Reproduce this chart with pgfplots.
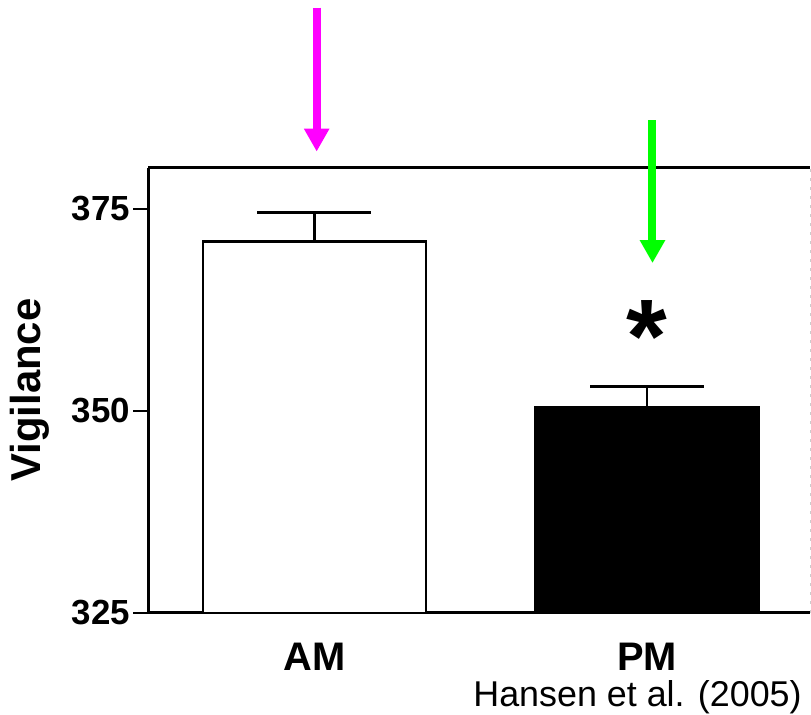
\documentclass[border=0pt]{standalone}
\usepackage{fontspec}
\setmainfont{Liberation Sans}
\usepackage{pgfplots}
\pgfplotsset{compat=1.18}
\usetikzlibrary{arrows.meta}
\definecolor{mag}{RGB}{255,0,255}
\definecolor{grn}{RGB}{0,255,0}
\begin{document}
\begin{tikzpicture}[x=1bp,y=1bp]
\useasboundingbox (0,0) rectangle (811,715);
\begin{axis}[
  at={(148bp,102bp)}, anchor=south west,
  scale only axis, width=662bp, height=445bp,
  xmin=-0.5, xmax=1.49, ymin=325, ymax=380.07,
  axis lines=left, axis line style={-, line width=3bp, black},
  ytick={325,350,375}, xtick={0,1}, xticklabels={AM,PM},
  tick align=outside, major tick length=15bp,
  x tick style={draw=none},
  y tick style={line width=2.5bp, black},
  /pgf/number format/assume math mode=true,
  yticklabel style={font=\fontsize{35}{35}\selectfont\bfseries, inner sep=3bp},
  xticklabel style={font=\fontsize{40}{40}\selectfont\bfseries, yshift=-12bp},
  ylabel={Vigilance},
  ylabel style={font=\fontsize{42}{42}\selectfont\bfseries, at={(axis description cs:-0.178,0.501)}, anchor=center},
  clip=false,
  ybar, bar width=223bp,
]
\addplot[fill=white, draw=black, line width=2.5bp, bar shift=0pt,
  error bars/.cd, y dir=plus, y explicit,
  error bar style={line width=2.5bp, black},
  error mark options={rotate=90, mark size=57bp, line width=3bp, black}]
  coordinates {(0,371) +- (0,3.5)};
\addplot[fill=black, draw=black, line width=2.5bp, bar shift=0pt,
  error bars/.cd, y dir=plus, y explicit,
  error bar style={line width=2.5bp, black},
  error mark options={rotate=90, mark size=57bp, line width=3bp, black}]
  coordinates {(1,350.5) +- (0,2.5)};
\draw[line width=3bp] (rel axis cs:0,1) -- (rel axis cs:1,1);
\draw[gray!40, line width=1bp, dash pattern=on 3bp off 6bp] (rel axis cs:1,0) -- (rel axis cs:1,1);
\node[font=\fontsize{105}{105}\selectfont\bfseries, anchor=base] at (axis cs:1,354.8) {*};
\draw[mag, line width=8bp, -{Triangle[width=24bp,length=23bp]}] (axis cs:0.007,399.9) -- (axis cs:0.007,382.1);
\draw[grn, line width=8bp, -{Triangle[width=24bp,length=23bp]}] (axis cs:1.0165,386.0) -- (axis cs:1.0165,368.3);
\end{axis}
\node[font=\fontsize{36}{36}\selectfont, anchor=base] at (637.5,8) {Hansen et al. (2005)};
\end{tikzpicture}
\end{document}
